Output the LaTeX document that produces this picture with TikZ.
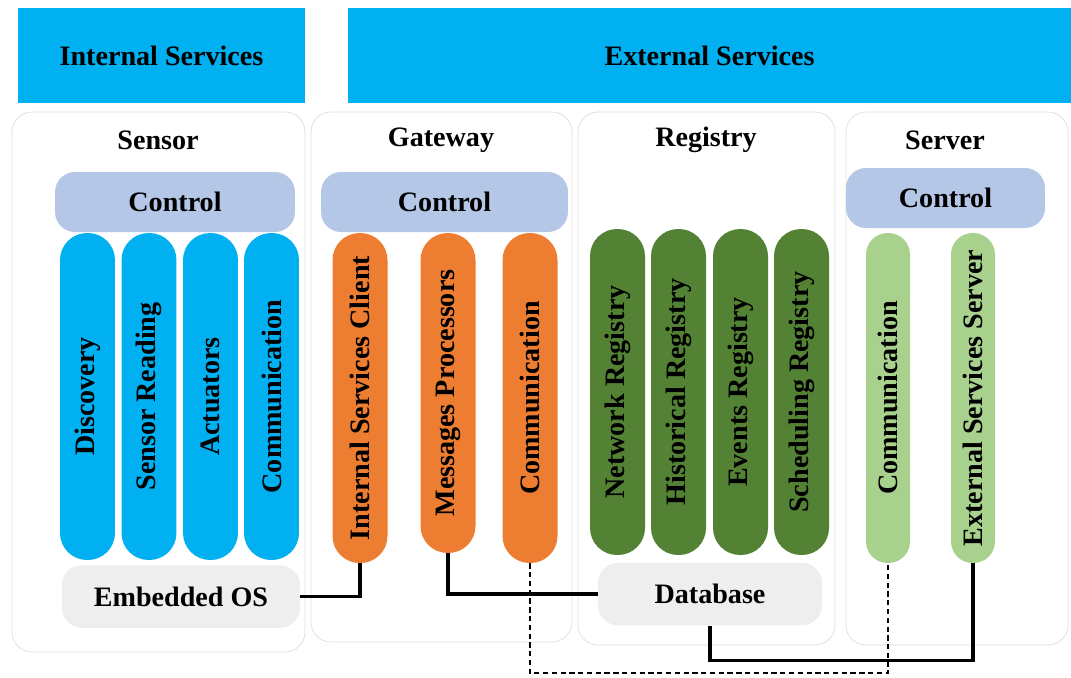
\documentclass[tikz,border=0pt]{standalone}
\usepackage{fontspec}
\setmainfont{Liberation Serif}
\usepackage{tikz}
\usetikzlibrary{calc}
\usetikzlibrary{positioning}
\definecolor{svcblue}{HTML}{00B0F0}
\definecolor{ctrlblue}{HTML}{B4C7E7}
\definecolor{gworange}{HTML}{ED7D31}
\definecolor{regreen}{HTML}{548235}
\definecolor{srvgreen}{HTML}{A9D18E}
\definecolor{basegray}{HTML}{EEEEEE}
\definecolor{panelgray}{HTML}{DDDDDD}
\newcommand{\vtext}[1]{\rotatebox{90}{#1}}

\begin{document}
\begin{tikzpicture}[x=0.02cm,y=-0.02cm,
		lbl/.style={font=\fontsize{16}{19}\selectfont\bfseries, text=black},
		bar/.style={lbl, fill=svcblue, minimum height=19mm, inner sep=0pt},
		panel/.style={draw=panelgray, fill=white, rounded corners=4mm},
		ctrl/.style={lbl, fill=ctrlblue, minimum height=12mm, rounded corners=4mm, inner sep=0pt},
		pill/.style={lbl, minimum width=11mm, rounded corners=5.4mm, inner sep=0pt},
		thinpill/.style={lbl, minimum width=8.8mm, rounded corners=4.3mm, inner sep=0pt},
		base/.style={lbl, fill=basegray, minimum height=12.5mm, rounded corners=4mm, inner sep=0pt},
		conn/.style={line width=2pt, black},
		dconn/.style={line width=1.1pt, black, dash pattern=on 3pt off 2pt}]
		\useasboundingbox (0,0) rectangle (1071,677);

		\node[bar, minimum width=57.4mm] (intbar) at (161.5,55.5) {Internal Services};
		\node[bar, minimum width=144.6mm] (extbar) at (709.5,55.5) {External Services};

		\draw[panel] (12,112) rectangle (305,652);
		\draw[panel] (311,112) rectangle (572,642);
		\draw[panel] (578,112) rectangle (835,645);
		\draw[panel] (846,112) rectangle (1068,645);

		\node[lbl] (sensor) at (158,140) {Sensor};
		\node[lbl] (gateway) at (441,140) {Gateway};
		\node[lbl] (registry) at (706,140) {Registry};
		\node[lbl] (server) at (945,140) {Server};

		\node[ctrl, minimum width=48mm] (sctrl) at (175,202) {Control};
		\node[ctrl, minimum width=49.4mm] (gctrl) at (444.5,202) {Control};
		\node[ctrl, minimum width=39.8mm] (vctrl) at (945.5,198) {Control};

		\node[pill, fill=svcblue, minimum height=65.4mm] (disc) at (87.5,396.5) {\vtext{Discovery}};
		\node[pill, fill=svcblue, minimum height=65.4mm] (sread) at (149,396.5) {\vtext{Sensor Reading}};
		\node[pill, fill=svcblue, minimum height=65.4mm] (act) at (210.5,396.5) {\vtext{Actuators}};
		\node[pill, fill=svcblue, minimum height=65.4mm] (scomm) at (271.5,396.5) {\vtext{Communication}};

		\node[pill, fill=gworange, minimum height=66mm] (isc) at (360,398) {\vtext{Internal Services Client}};
		\node[pill, fill=gworange, minimum height=64mm] (mp) at (448,393) {\vtext{Messages Processors}};
		\node[pill, fill=gworange, minimum height=66mm] (gcomm) at (530,398) {\vtext{Communication}};

		\node[pill, fill=regreen, minimum height=65.2mm] (netreg) at (617.5,392) {\vtext{Network Registry}};
		\node[pill, fill=regreen, minimum height=65.2mm] (histreg) at (678.5,392) {\vtext{Historical Registry}};
		\node[pill, fill=regreen, minimum height=65.2mm] (evreg) at (740.5,392) {\vtext{Events Registry}};
		\node[pill, fill=regreen, minimum height=65.2mm] (schedreg) at (801.5,392) {\vtext{Scheduling Registry}};

		\node[thinpill, fill=srvgreen, minimum height=66mm] (vcomm) at (888,398) {\vtext{Communication}};
		\node[thinpill, fill=srvgreen, minimum height=66mm] (ess) at (973,398) {\vtext{External Services Server}};

		\node[base, minimum width=47.6mm] (eos) at (181,596.5) {Embedded OS};
		\node[base, minimum width=44.8mm] (db) at (710,594) {Database};

		\draw[conn] (eos.east) -| (isc.south);
		\draw[conn] (mp.south) |- (db.west);
		\draw[conn] (db.south) -- ++(0,35) -| (ess.south);
		\draw[dconn] (gcomm.south) -- ++(0,110) -| (vcomm.south);
	\end{tikzpicture}
\end{document}
